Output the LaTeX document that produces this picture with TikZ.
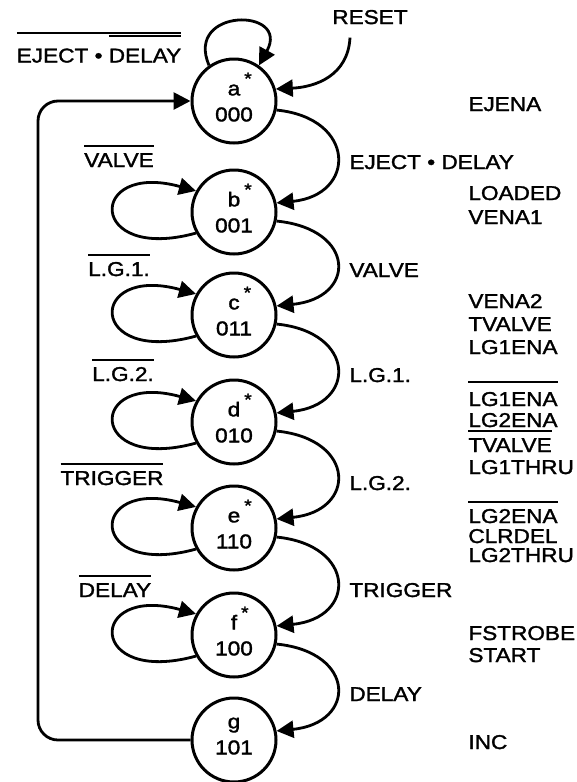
\documentclass[tikz,border=0pt]{standalone}
\usepackage{fontspec}
\setmainfont{Liberation Sans}[FakeStretch=1.13, FakeBold=1.6]
\usetikzlibrary{arrows.meta}

% overline with adjustable gap
\newcommand\ovl[2][6pt]{\vbox{\hrule height 2.2pt\kern#1\hbox{#2}}}
% star of a state letter
\newcommand\st{\rlap{\kern4pt\raisebox{11pt}{\fontsize{17pt}{17pt}\selectfont *}}}

\tikzset{
  state/.style={circle, draw, line width=3pt, minimum size=84pt, inner sep=0pt,
    align=center, font=\fontsize{20pt}{26pt}\selectfont,
    execute at end node={\rule[-8pt]{0pt}{0pt}}},
  lbl/.style={inner sep=0pt, anchor=base, font=\fontsize{20pt}{22pt}\selectfont},
  arclbl/.style={lbl, anchor=base west},
  outlbl/.style={lbl, anchor=base west},
}

\begin{document}
\begin{tikzpicture}[x=1pt, y=-1pt, line width=2.8pt, >={Triangle[length=17pt,width=17pt]}]
  \useasboundingbox (0,0) rectangle (576,782);

  % states, top to bottom
  \node[state] (a) at (234,101) {a\st\\000};
  \node[state] (b) at (234,212) {b\st\\001};
  \node[state] (c) at (234,315) {c\st\\011};
  \node[state] (d) at (234,422) {d\st\\010};
  \node[state] (e) at (234,528) {e\st\\110};
  \node[state] (f) at (234,635) {f\st\\100};
  \node[state] (g) at (234,740) {g\\101};

  % reset and self loop of a
  \node[lbl] (reset) at (370,24) {RESET};
  \draw[->] ([shift={(-20pt,-12pt)}]reset.south) .. controls +(-2,38) and +(40,-2) .. (a.16);
  \draw[->] (a.125) .. controls +(-25,-58) and +(32,-58) .. (a.55);

  % transitions down the right side
  \foreach \s/\t in {a/b,b/c,c/d,d/e,e/f,f/g}
    \draw[->] (\s.-12) .. controls +(80,8) and +(80,-8) .. (\t.12);

  % self loops on the left
  \foreach \s in {b,c,d,e,f}
    \draw[->] (\s.209) .. controls +(-109,30) and +(-109,-30) .. (\s.151);

  % return from g to a
  \coordinate (bl) at (38,740);
  \coordinate (tl) at (38,101);
  \draw[->, rounded corners=20pt] (g.west) -- (bl) -- (tl) -- (a.west);

  % loop conditions
  \node[lbl] (na) at (99,62.5) {\ovl[0.8pt]{EJECT • \ovl[12pt]{DELAY}}};
  \node[lbl] (nb) at (119,167) {\ovl{VALVE}};
  \node[lbl] (nc) at (119,276) {\ovl{L.G.1.}};
  \node[lbl] (nd) at (123,381) {\ovl{L.G.2.}};
  \node[lbl] (ne) at (112,485) {\ovl{TRIGGER}};
  \node[lbl] (nf) at (115,597) {\ovl{DELAY}};

  % transition conditions
  \node[arclbl] (ab) at (348,169) {EJECT • DELAY};
  \node[arclbl] (bc) at (348,277) {VALVE};
  \node[arclbl] (cd) at (348,382) {L.G.1.};
  \node[arclbl] (de) at (348,490) {L.G.2.};
  \node[arclbl] (ef) at (348,597) {TRIGGER};
  \node[arclbl] (fg) at (348,701) {DELAY};

  % outputs of the states
  \foreach \txt/\yy [count=\k] in {EJENA/111, LOADED/200, VENA1/224,
      VENA2/308, TVALVE/331, LG1ENA/354,
      {\ovl[9pt]{LG1ENA}}/406, LG2ENA/427, {\ovl{TVALVE}}/452, LG1THRU/474,
      {\ovl{LG2ENA}}/523, CLRDEL/543, LG2THRU/562,
      FSTROBE/640, START/662, INC/749}
    \node[outlbl] (out\k) at (467,\yy) {\txt};
\end{tikzpicture}
\end{document}
